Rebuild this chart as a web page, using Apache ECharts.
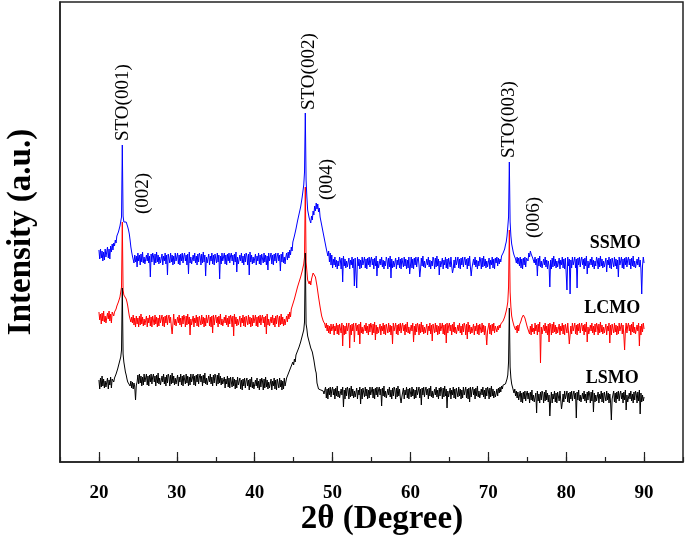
<!DOCTYPE html>
<html><head><meta charset="utf-8">
<script src="https://cdn.jsdelivr.net/npm/echarts@6/dist/echarts.min.js"></script>
<style>html,body{margin:0;padding:0;background:#fff}#c{width:685px;height:538px}</style>
</head><body><div id="c"></div>
<script>
// sampling grid of 2θ (degrees): one value per 0.1°, 20.0 … 90.0
const thetaStart = 20, thetaStep = 0.1;
// SSMO (blue), offset intensity
const ssmo = [
212,203,213,204,211,201,210,202,213,205,
206,215,204,213,203,216,210,218,212,219,
216,222,219,226,224,230,229,236,238,245,
317,246,240,242,241,240,238,235,232,228,
222,215,210,206,208,199,207,200,206,195,
209,201,207,197,208,200,210,199,205,198,
198,207,201,209,199,206,185,208,200,209,
206,197,208,199,210,200,207,198,205,199,
199,208,197,206,201,209,198,207,187,208,
208,199,209,200,207,197,206,198,209,201,
200,209,198,207,197,208,201,209,199,206,
209,201,207,197,208,188,210,199,205,198,
198,207,201,209,199,206,197,208,200,209,
206,197,208,199,210,200,207,186,205,199,
199,208,197,206,201,209,198,207,197,208,
208,199,209,200,207,183,206,198,209,201,
200,209,198,207,197,208,201,209,199,206,
209,201,207,197,208,200,210,190,205,198,
198,207,201,209,199,206,197,208,200,209,
206,197,208,187,210,200,207,198,205,199,
199,208,197,206,201,209,198,207,197,208,
208,199,209,200,207,197,206,192,209,201,
200,209,198,207,197,208,201,209,199,206,
209,201,207,191,208,200,210,199,205,198,
205,209,202,210,204,212,207,215,211,220,
218,226,224,233,231,241,239,248,246,255,
254,265,264,277,290,349,282,265,252,251,
244,246,239,246,242,251,247,256,251,259,
253,258,250,254,245,247,237,239,229,231,
221,223,213,215,206,211,200,209,197,207,
194,203,197,205,195,202,193,201,196,205,
202,193,204,180,206,196,203,194,201,195,
195,204,193,202,197,205,194,203,176,204,
204,174,205,196,203,193,202,194,205,197,
196,205,194,203,193,204,197,205,195,202,
205,197,203,193,204,196,206,186,201,194,
194,203,197,205,195,202,193,201,196,205,
202,193,204,195,206,184,203,194,201,195,
195,204,193,202,197,205,194,203,193,204,
204,195,205,196,203,193,202,194,205,188,
196,205,194,203,193,204,197,205,195,202,
205,197,185,193,204,196,206,195,201,194,
194,203,197,205,195,202,193,201,196,205,
202,193,204,195,206,196,203,187,201,195,
195,204,193,202,197,205,194,203,193,204,
204,195,205,196,189,193,202,194,205,197,
196,205,194,203,193,204,197,205,195,202,
205,197,203,193,204,196,206,195,186,194,
194,203,197,205,195,202,193,201,196,205,
202,193,204,195,206,196,203,194,201,195,
195,204,193,202,197,205,194,203,193,204,
199,205,196,204,198,203,200,206,204,209,
210,213,217,220,226,235,245,300,240,226,
218,214,210,207,205,203,199,205,198,204,
196,205,194,203,193,204,197,205,195,204,
206,201,209,205,211,208,210,204,206,199,
205,197,203,186,204,196,206,195,201,194,
194,203,197,205,195,202,193,201,196,175,
202,193,204,195,206,196,203,194,201,195,
195,204,193,202,197,205,194,203,193,204,
204,172,205,196,203,168,202,194,205,197,
196,205,194,203,174,204,197,205,195,202,
205,197,203,193,204,196,206,188,201,194,
194,203,197,205,195,202,193,201,196,205,
202,193,204,195,206,196,203,194,201,195,
195,204,190,202,197,205,194,203,193,204,
204,195,205,196,203,193,202,185,205,197,
196,205,194,203,193,204,197,205,195,202,
205,197,203,193,204,196,206,195,201,194,
194,203,197,205,195,202,193,168,196,205,
199];
// LCMO (red)
const lcmo = [
150,142,148,138,149,141,151,140,146,139,
140,149,143,151,141,148,139,150,148,146,
150,152,153,156,157,160,162,165,167,175,
240,172,167,166,165,163,160,156,151,146,
144,140,145,139,147,137,144,135,146,138,
144,135,146,137,148,138,145,136,143,137,
137,146,135,144,139,147,136,145,135,146,
146,137,147,138,145,135,144,136,147,139,
138,147,136,145,135,146,139,147,137,144,
147,139,145,135,128,138,148,137,143,136,
136,145,139,147,137,144,135,146,138,147,
144,135,146,137,148,138,145,127,143,137,
137,146,135,144,139,147,136,145,135,146,
146,137,147,138,145,135,144,136,147,139,
138,147,136,145,135,146,129,147,137,144,
147,139,145,135,146,138,148,137,143,136,
136,145,139,147,137,144,135,146,138,147,
144,135,146,126,148,138,145,136,143,137,
137,146,135,144,139,147,136,145,135,146,
146,137,147,138,145,135,144,136,147,139,
138,147,136,145,135,146,139,147,137,144,
147,139,145,135,146,128,148,137,143,136,
136,145,139,147,137,144,135,146,138,147,
144,135,146,137,148,138,145,136,143,137,
139,146,140,148,143,150,145,153,151,158,
156,163,162,169,168,175,174,180,178,185,
184,191,190,198,205,275,200,191,182,183,
178,181,177,183,182,189,187,191,185,185,
176,175,165,164,155,154,146,147,141,142,
138,134,139,131,137,129,136,128,138,131,
129,138,127,136,131,139,128,137,127,138,
138,129,139,116,137,127,136,128,139,131,
130,139,114,137,127,138,131,139,120,136,
139,131,137,127,138,118,140,129,135,128,
128,137,131,139,129,136,127,138,130,139,
136,127,138,129,140,122,137,128,135,129,
129,138,127,136,131,139,128,137,127,138,
138,129,139,130,137,127,136,118,139,131,
130,139,128,137,127,138,131,139,129,136,
139,131,137,127,138,130,140,129,135,128,
128,137,131,139,120,136,127,138,130,139,
136,127,138,129,140,130,137,128,135,129,
129,138,127,136,131,139,128,137,121,138,
138,129,139,130,137,127,136,128,139,131,
130,139,128,137,127,138,119,139,129,136,
139,131,137,127,138,130,140,129,135,128,
128,137,131,139,129,136,127,138,130,139,
136,127,138,123,140,130,137,128,135,129,
129,138,127,136,131,139,128,137,127,138,
138,129,139,130,137,127,136,128,117,131,
130,139,128,137,127,138,131,139,129,136,
134,130,136,132,137,134,138,137,140,141,
142,145,148,151,155,160,175,232,170,155,
146,142,139,136,134,132,136,129,137,131,
137,139,141,144,146,147,146,144,141,138,
135,133,137,128,136,127,138,130,134,128,
139,131,137,127,138,130,140,99,135,128,
128,137,131,139,129,136,127,138,120,139,
136,127,138,129,140,130,137,128,135,129,
129,138,127,136,131,139,128,137,127,138,
138,129,139,130,118,127,136,128,139,131,
130,139,128,137,127,138,131,139,129,136,
139,131,137,127,138,130,140,120,135,128,
128,137,131,139,129,136,127,138,130,139,
136,127,138,129,140,130,137,128,135,129,
129,138,127,136,131,139,119,137,127,138,
138,129,139,130,137,127,136,128,139,131,
130,139,128,137,127,112,131,139,129,136,
139,131,137,127,138,130,140,129,135,128,
128,137,131,139,116,136,127,138,130,139,
133];
// LSMO (black)
const lsmo = [
82,73,84,75,86,76,83,74,81,75,
75,84,73,82,77,85,74,83,82,80,
84,85,88,90,93,96,99,102,105,112,
174,108,100,95,90,87,83,80,78,79,
76,81,74,80,73,79,75,62,77,80,
87,78,88,79,86,76,85,77,88,80,
79,88,77,86,76,87,80,88,78,85,
88,80,86,76,87,79,89,78,84,77,
77,86,80,88,78,85,76,87,79,88,
85,76,87,78,89,79,86,77,84,78,
78,87,76,85,80,88,77,86,76,87,
87,78,88,79,86,76,85,77,88,80,
79,88,77,86,76,87,80,88,78,85,
88,80,86,76,87,79,89,78,84,77,
77,86,80,88,78,85,76,87,79,88,
85,76,87,78,89,79,86,77,84,78,
76,85,74,83,78,86,75,84,74,85,
84,75,85,76,83,73,82,74,85,77,
75,84,73,82,72,83,76,84,74,81,
84,76,82,72,83,75,85,74,80,73,
73,82,76,84,74,81,72,83,75,84,
81,72,83,74,85,75,82,73,80,74,
74,83,72,81,76,84,73,82,72,83,
83,74,84,75,82,72,81,73,84,76,
77,84,82,88,87,92,91,96,94,100,
97,103,100,107,105,111,109,115,113,120,
119,126,125,132,140,209,138,133,126,127,
120,121,114,116,110,110,102,101,92,89,
79,79,73,75,73,72,72,70,71,68,
66,75,64,73,63,74,67,75,65,72,
75,67,73,63,74,66,76,65,71,64,
64,73,67,75,55,72,63,74,66,75,
72,63,74,65,76,66,73,64,71,65,
65,74,63,72,67,75,58,73,63,74,
74,65,75,66,73,63,72,64,75,67,
66,75,64,73,63,74,67,75,65,72,
75,67,73,56,74,66,76,65,71,64,
64,73,67,75,65,72,63,74,66,75,
72,63,74,65,76,66,73,64,59,65,
65,74,63,72,67,75,64,73,63,74,
74,65,75,66,73,63,72,64,75,67,
66,75,64,73,57,74,67,75,65,72,
75,67,73,63,74,66,76,65,71,64,
64,73,67,75,65,72,63,74,66,75,
72,63,74,65,76,66,73,54,71,65,
65,74,63,72,67,75,64,73,63,74,
74,65,75,66,73,63,72,64,75,67,
66,75,64,73,63,74,60,75,65,72,
75,67,73,63,74,66,76,65,71,64,
64,73,67,75,65,72,63,74,66,75,
72,63,74,65,76,66,73,64,71,65,
68,73,66,74,69,75,70,76,73,77,
75,76,78,80,83,87,100,154,95,84,
78,75,72,69,73,66,71,64,70,62,
62,71,60,69,59,70,63,71,61,68,
71,63,69,59,70,62,72,61,67,60,
60,69,49,71,61,68,59,70,62,71,
68,59,70,61,72,62,69,60,67,46,
61,70,59,68,63,71,60,69,59,70,
70,61,71,62,53,59,68,60,71,63,
62,71,60,69,59,70,63,71,61,68,
71,63,69,44,70,62,72,61,67,60,
60,69,63,71,61,68,59,70,62,71,
68,59,70,61,72,50,69,60,67,61,
61,70,59,68,63,71,60,69,59,70,
70,61,71,62,69,59,68,60,42,63,
62,71,60,69,59,70,63,71,61,68,
71,63,69,59,70,62,72,52,67,60,
60,69,63,71,61,68,59,70,62,71,
68,59,70,61,72,48,69,60,67,61,
65];

const xMajorTicks = [20,30,40,50,60,70,80,90];
const sampleNames = ['SSMO','LCMO','LSMO'];
const sampleColors = ['#0000ff','#ff0000','#000000'];
const sampleLabelTheta = [86.3, 85.9, 85.9];
const sampleLabelValue = [219, 154, 84];
const peakLabels = ['STO(001)','(002)','STO(002)','(004)','STO(003)','(006)'];
const peakLabelTheta = [23.1, 25.6, 47.0, 49.3, 72.6, 75.9];
const peakLabelValue = [321, 248, 352, 262, 304, 224];

const FONT = '"Liberation Serif","Times New Roman",serif';
function toPairs(arr){ return arr.map((v,i)=>[+(thetaStart+i*thetaStep).toFixed(1), v]); }

const chart = echarts.init(document.getElementById('c'), null, {renderer:'canvas'});
const seriesData = [ssmo, lcmo, lsmo];
chart.setOption({
  animation:false,
  backgroundColor:'#fff',
  grid:{left:60,right:2,top:2,bottom:76,show:true,borderColor:'#222',borderWidth:1.5,backgroundColor:'transparent',outerBoundsMode:'none'},
  xAxis:[{
    type:'value',min:15,max:95,interval:5,position:'bottom',
    axisLine:{show:true,lineStyle:{color:'#222',width:1.5}},
    axisTick:{show:true,inside:true,length:5,lineStyle:{color:'#222',width:1.2}},
    axisLabel:{show:true,margin:22,color:'#000',fontFamily:FONT,fontWeight:'bold',fontSize:19,
      formatter:v=> (v%10===0 && v>=20 && v<=90) ? String(v) : ''},
    splitLine:{show:false}
  },{
    type:'value',min:15,max:95,position:'bottom',
    axisLine:{show:false},
    axisTick:{show:true,inside:true,length:10,customValues:xMajorTicks,lineStyle:{color:'#222',width:1.2}},
    axisLabel:{show:false},
    splitLine:{show:false}
  }],
  yAxis:{type:'value',min:0,max:460,
    axisLine:{show:true,lineStyle:{color:'#222',width:1.5}},
    axisTick:{show:false},axisLabel:{show:false},splitLine:{show:false}},
  series: sampleNames.map((n,k)=>({
    name:n,type:'line',data:toPairs(seriesData[k]),showSymbol:false,symbol:'none',
    sampling:null,lineStyle:{color:sampleColors[k],width:1},z:2+k,silent:true
  }))
});
const gfx = [
  {type:'text',x:21,y:232,rotation:Math.PI/2,style:{text:'Intensity (a.u.)',align:'center',verticalAlign:'middle',font:'bold 33px '+FONT,fill:'#000'}},
  {type:'text',x:382,y:519,style:{text:'2θ (Degree)',align:'center',verticalAlign:'middle',font:'bold 33px '+FONT,fill:'#000'}}
];
peakLabels.forEach((t,i)=>{
  const p = chart.convertToPixel({gridIndex:0},[peakLabelTheta[i],peakLabelValue[i]]);
  gfx.push({type:'text',x:p[0],y:p[1],rotation:Math.PI/2,style:{text:t,align:'left',verticalAlign:'middle',font:'19px '+FONT,fill:'#000'}});
});
sampleNames.forEach((t,i)=>{
  const p = chart.convertToPixel({gridIndex:0},[sampleLabelTheta[i],sampleLabelValue[i]]);
  gfx.push({type:'text',x:p[0],y:p[1],style:{text:t,align:'center',verticalAlign:'middle',font:'bold 18px '+FONT,fill:'#000'}});
});
chart.setOption({graphic:gfx});
</script></body></html>
